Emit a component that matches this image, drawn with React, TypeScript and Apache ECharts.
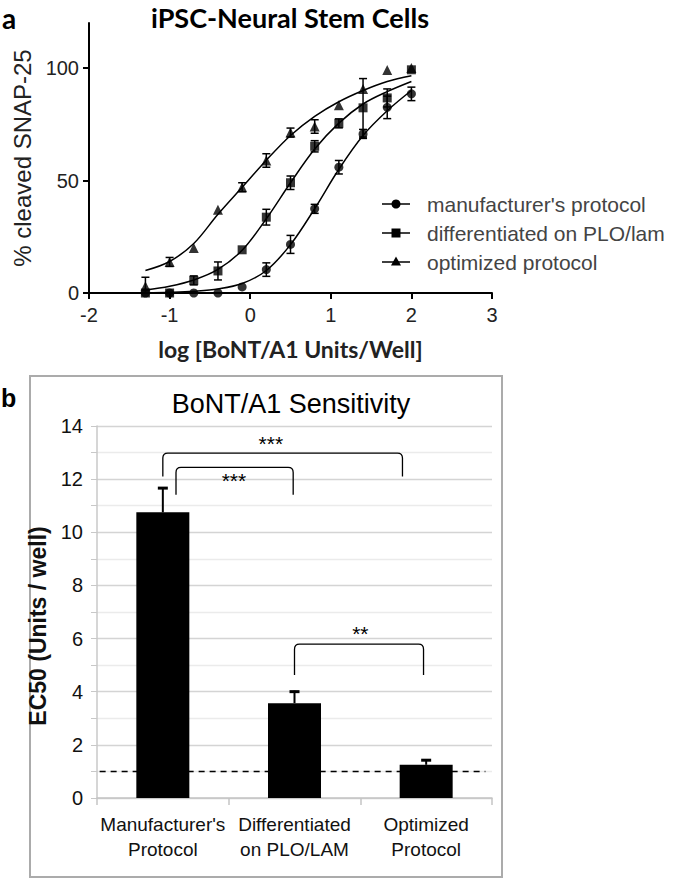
import React, { useEffect, useRef } from 'react';
import * as echarts from 'echarts';

// ---------- Panel a: dose response ----------
const logDose = [-1.3, -1.0, -0.7, -0.4, -0.1, 0.2, 0.5, 0.8, 1.1, 1.4, 1.7, 2.0];

const manufacturerMean = [0, 0, 0, 0, 2.7, 10.4, 21.6, 37.4, 55.9, 70.7, 82.5, 88.5];
const manufacturerErr = [0, 0, 0, 0, 0, 3, 4, 2, 3, 2, 5, 3];
const manufacturerFit = [0, 0.3, 0.8, 1.8, 4.2, 10, 21.5, 37.5, 55, 70, 81, 90];

const plolamMean = [0, 0, 5.6, 9.8, 19.2, 33.7, 49, 65.2, 75.4, 82.3, 86.7, 99.2];
const plolamErr = [0, 0, 2, 4, 0, 3.5, 3, 2.5, 2, 13, 4, 0];
const plolamFit = [1.3, 3, 5.8, 10.5, 19, 33, 49, 64, 75.5, 84, 89.5, 94];

const optimizedMean = [3, 13.8, 20, 37, 47, 58.9, 71.3, 74, 83.5, 90.7, 99.1, 100];
const optimizedErr = [4, 2, 0, 0, 2, 3, 2, 3, 0, 0, 0, 0];
const optimizedFit = [10, 14, 22, 35, 47, 59, 70, 78.5, 85, 90, 94, 96.6];

const legendNames = ["manufacturer's protocol", 'differentiated on PLO/lam', 'optimized protocol'];
const legendSymbols = ['circle', 'rect', 'triangle'];

// ---------- Panel b: EC50 bars ----------
const protocols = ["Manufacturer's\nProtocol", 'Differentiated\non PLO/LAM', 'Optimized\nProtocol'];
const ec50 = [10.75, 3.57, 1.25];
const ec50Err = [0.95, 0.47, 0.21];
const referenceLevel = 1;
const referenceFrom = -0.48;
const referenceTo = 2.45;

const bracketFrom = [0, 0.1, 1.0];
const bracketTo = [1.82, 0.99, 1.98];
const bracketTop = [12.98, 12.44, 5.79];
const bracketLeg = [12.1, 11.41, 4.63];
const bracketStars = ['***', '***', '**'];
const starsX = [0.82, 0.54, 1.5];
const starsY = [13.35, 11.95, 6.2];

const ARIAL = "'Liberation Sans', Arial, sans-serif";
const CALIBRI = "Lato, 'Open Sans', sans-serif";

function errorBarRender(params: any, api: any) {
  const x = api.value(0);
  const y = api.value(1);
  const e = api.value(2);
  if (!e) return { type: 'group', children: [] };
  const top = api.coord([x, y + e]);
  const bot = api.coord([x, Math.max(0, y - e)]);
  const w = 4;
  const st = { stroke: '#000', lineWidth: 1.5 };
  return {
    type: 'group',
    children: [
      { type: 'line', shape: { x1: top[0], y1: top[1], x2: bot[0], y2: bot[1] }, style: st },
      { type: 'line', shape: { x1: top[0] - w, y1: top[1], x2: top[0] + w, y2: top[1] }, style: st },
      { type: 'line', shape: { x1: bot[0] - w, y1: bot[1], x2: bot[0] + w, y2: bot[1] }, style: st },
    ],
  };
}

function barErrorRender(params: any, api: any) {
  const x = api.value(0);
  const y = api.value(1);
  const e = api.value(2);
  const base = api.coord([x, y]);
  const top = api.coord([x, y + e]);
  return {
    type: 'group',
    children: [
      { type: 'line', shape: { x1: base[0], y1: base[1], x2: top[0], y2: top[1] }, style: { stroke: '#000', lineWidth: 2 } },
      { type: 'line', shape: { x1: top[0] - 5, y1: top[1] + 1, x2: top[0] + 5, y2: top[1] + 1 }, style: { stroke: '#000', lineWidth: 3 } },
    ],
  };
}

function bracketRender(params: any, api: any) {
  const i = params.dataIndex;
  const pL = api.coord([bracketFrom[i], bracketTop[i]]);
  const pR = api.coord([bracketTo[i], bracketTop[i]]);
  const legY = api.coord([bracketFrom[i], bracketLeg[i]])[1];
  const r = 5;
  const d =
    `M ${pL[0]} ${legY} L ${pL[0]} ${pL[1] + r} Q ${pL[0]} ${pL[1]} ${pL[0] + r} ${pL[1]} ` +
    `L ${pR[0] - r} ${pR[1]} Q ${pR[0]} ${pR[1]} ${pR[0]} ${pR[1] + r} L ${pR[0]} ${legY}`;
  const sp = api.coord([starsX[i], starsY[i]]);
  return {
    type: 'group',
    children: [
      { type: 'path', shape: { pathData: d }, style: { stroke: '#000', lineWidth: 1.3, fill: 'none' } },
      {
        type: 'text',
        x: sp[0],
        y: sp[1],
        style: { text: bracketStars[i], fill: '#000', font: `21px ${ARIAL}`, align: 'center', verticalAlign: 'middle' },
      },
    ],
  };
}

function dashRender(params: any, api: any) {
  const a = api.coord([api.value(0), api.value(2)]);
  const b = api.coord([api.value(1), api.value(2)]);
  return {
    type: 'line',
    shape: { x1: a[0], y1: a[1], x2: b[0], y2: b[1] },
    style: { stroke: '#000', lineWidth: 1.5, lineDash: [6, 5] },
  };
}

function legendGraphic() {
  const rows = [204, 233, 262];
  const out: any[] = [];
  rows.forEach((y, i) => {
    out.push({ type: 'line', shape: { x1: 382, y1: y, x2: 410, y2: y }, style: { stroke: '#000', lineWidth: 1.5 } });
    const sym = legendSymbols[i];
    if (sym === 'circle') out.push({ type: 'circle', shape: { cx: 396, cy: y, r: 4.5 }, style: { fill: '#000' } });
    else if (sym === 'rect') out.push({ type: 'rect', shape: { x: 391.5, y: y - 4.5, width: 9, height: 9 }, style: { fill: '#000' } });
    else out.push({ type: 'polygon', shape: { points: [[396, y - 5.5], [401, y + 3.5], [391, y + 3.5]] }, style: { fill: '#000' } });
    out.push({
      type: 'text',
      x: 427,
      y,
      style: { text: legendNames[i], fill: '#444', font: `21px ${ARIAL}`, align: 'left', verticalAlign: 'middle' },
    });
  });
  return out;
}

export default function App() {
  const ref = useRef<HTMLDivElement>(null);
  useEffect(() => {
    document.body.style.margin = '0';
    const chart = echarts.init(ref.current!, null, { renderer: 'svg' });

    const pairs = (ys: number[]) => logDose.map((x, i) => [x, ys[i]]);
    const triples = (ys: number[], es: number[]) => logDose.map((x, i) => [x, ys[i], es[i]]);
    const groups = [
      { fit: manufacturerFit, mean: manufacturerMean, err: manufacturerErr, sym: 'circle', size: 9 },
      { fit: plolamFit, mean: plolamMean, err: plolamErr, sym: 'rect', size: 9 },
      { fit: optimizedFit, mean: optimizedMean, err: optimizedErr, sym: 'triangle', size: 10 },
    ];

    const series: any[] = [];
    groups.forEach((g, i) => {
      series.push({
        type: 'line', name: legendNames[i] + ' fit', xAxisIndex: 0, yAxisIndex: 0,
        data: pairs(g.fit), smooth: 0.35, showSymbol: false, symbol: 'none',
        lineStyle: { color: '#000', width: 1.5 }, z: 2, silent: true,
      });
      series.push({
        type: 'custom', name: legendNames[i] + ' err', xAxisIndex: 0, yAxisIndex: 0,
        data: triples(g.mean, g.err), renderItem: errorBarRender, z: 3, silent: true,
      });
      series.push({
        type: 'scatter', name: legendNames[i], xAxisIndex: 0, yAxisIndex: 0,
        data: pairs(g.mean), symbol: g.sym, symbolSize: g.size,
        itemStyle: { color: '#000' }, z: 4,
      });
    });

    series.push({
      type: 'custom', name: 'reference', xAxisIndex: 2, yAxisIndex: 1,
      data: [[referenceFrom, referenceTo, referenceLevel]], renderItem: dashRender, z: 1, silent: true,
    });
    series.push({
      type: 'bar', name: 'EC50', xAxisIndex: 1, yAxisIndex: 1, data: ec50, barWidth: 53,
      itemStyle: { color: '#000' }, z: 2,
    });
    series.push({
      type: 'custom', name: 'EC50 err', xAxisIndex: 2, yAxisIndex: 1,
      data: ec50.map((v, i) => [i, v, ec50Err[i]]), renderItem: barErrorRender, z: 3, silent: true,
    });
    series.push({
      type: 'custom', name: 'brackets', xAxisIndex: 2, yAxisIndex: 1,
      data: bracketFrom.map((v, i) => [v, bracketTop[i]]), renderItem: bracketRender, z: 3, silent: true,
    });

    const option: any = {
      animation: false,
      backgroundColor: '#fff',
      grid: [
        { left: 89, top: 23, width: 403, height: 270 },
        { left: 97, top: 426, width: 395, height: 372 },
      ],
      xAxis: [
        {
          type: 'value', gridIndex: 0, min: -2, max: 3, interval: 1,
          axisLine: { onZero: false, lineStyle: { color: '#000', width: 2 } },
          axisTick: { inside: false, length: 6, lineStyle: { color: '#000', width: 2 } },
          axisLabel: { margin: 12, color: '#222', fontSize: 20, fontFamily: ARIAL },
          splitLine: { show: false },
          name: 'log [BoNT/A1 Units/Well]', nameLocation: 'middle', nameGap: 44,
          nameTextStyle: { fontFamily: CALIBRI, fontWeight: 'bold', fontSize: 23, color: '#222' },
        },
        {
          type: 'category', gridIndex: 1, data: protocols,
          axisLine: { onZero: false, lineStyle: { color: '#c4c4c4', width: 1.5 } },
          axisTick: { show: true, length: 7, lineStyle: { color: '#c4c4c4', width: 1.5 } },
          axisLabel: { interval: 0, margin: 14, color: '#111', fontSize: 19, fontFamily: ARIAL, lineHeight: 25 },
        },
        { type: 'value', gridIndex: 1, min: -0.5, max: 2.5, show: false },
      ],
      yAxis: [
        {
          type: 'value', gridIndex: 0, min: 0, max: 120, interval: 50,
          axisLine: { show: true, onZero: false, lineStyle: { color: '#000', width: 2 } },
          axisTick: { show: true, inside: false, length: 6, lineStyle: { color: '#000', width: 2 } },
          axisLabel: { margin: 10, color: '#222', fontSize: 20, fontFamily: ARIAL, showMaxLabel: false },
          splitLine: { show: false },
          name: '% cleaved SNAP-25', nameLocation: 'middle', nameGap: 52,
          nameTextStyle: { fontFamily: ARIAL, fontSize: 24, color: '#222' },
        },
        {
          type: 'value', gridIndex: 1, min: 0, max: 14, interval: 1,
          axisLine: { show: true, onZero: false, lineStyle: { color: '#c8c8c8', width: 1.5 } },
          axisTick: { show: true, length: 6, lineStyle: { color: '#c8c8c8' } },
          axisLabel: {
            margin: 14, color: '#111', fontSize: 20, fontFamily: ARIAL,
            formatter: (v: number) => (v % 2 === 0 ? String(v) : ''),
          },
          splitLine: { show: true, lineStyle: { color: ['#d4d4d4', '#ebebeb'], width: 1.3 } },
          name: 'EC50 (Units / well)', nameLocation: 'middle', nameGap: 40,
          nameTextStyle: { fontFamily: ARIAL, fontWeight: 'bold', fontSize: 23, color: '#111', padding: [0, 28, 0, 0] },
        },
      ],
      graphic: [
        { type: 'rect', shape: { x: 30, y: 376, width: 472, height: 501 }, style: { fill: 'none', stroke: '#ababab', lineWidth: 2 }, z: -1 },
        { type: 'text', x: 2, y: 18, style: { text: 'a', fill: '#000', font: `bold 28px ${CALIBRI}`, align: 'left', verticalAlign: 'middle' } },
        { type: 'text', x: 1, y: 398, style: { text: 'b', fill: '#000', font: `bold 25px ${ARIAL}`, align: 'left', verticalAlign: 'middle' } },
        { type: 'text', x: 290, y: 17, style: { text: 'iPSC-Neural Stem Cells', fill: '#000', font: `bold 27px ${CALIBRI}`, align: 'center', verticalAlign: 'middle' } },
        { type: 'text', x: 291, y: 404, style: { text: 'BoNT/A1 Sensitivity', fill: '#000', font: `27px ${ARIAL}`, align: 'center', verticalAlign: 'middle' } },
        ...legendGraphic(),
      ],
      series,
    };
    chart.setOption(option);
    return () => chart.dispose();
  }, []);
  return <div ref={ref} style={{ width: 675, height: 881 }} />;
}
